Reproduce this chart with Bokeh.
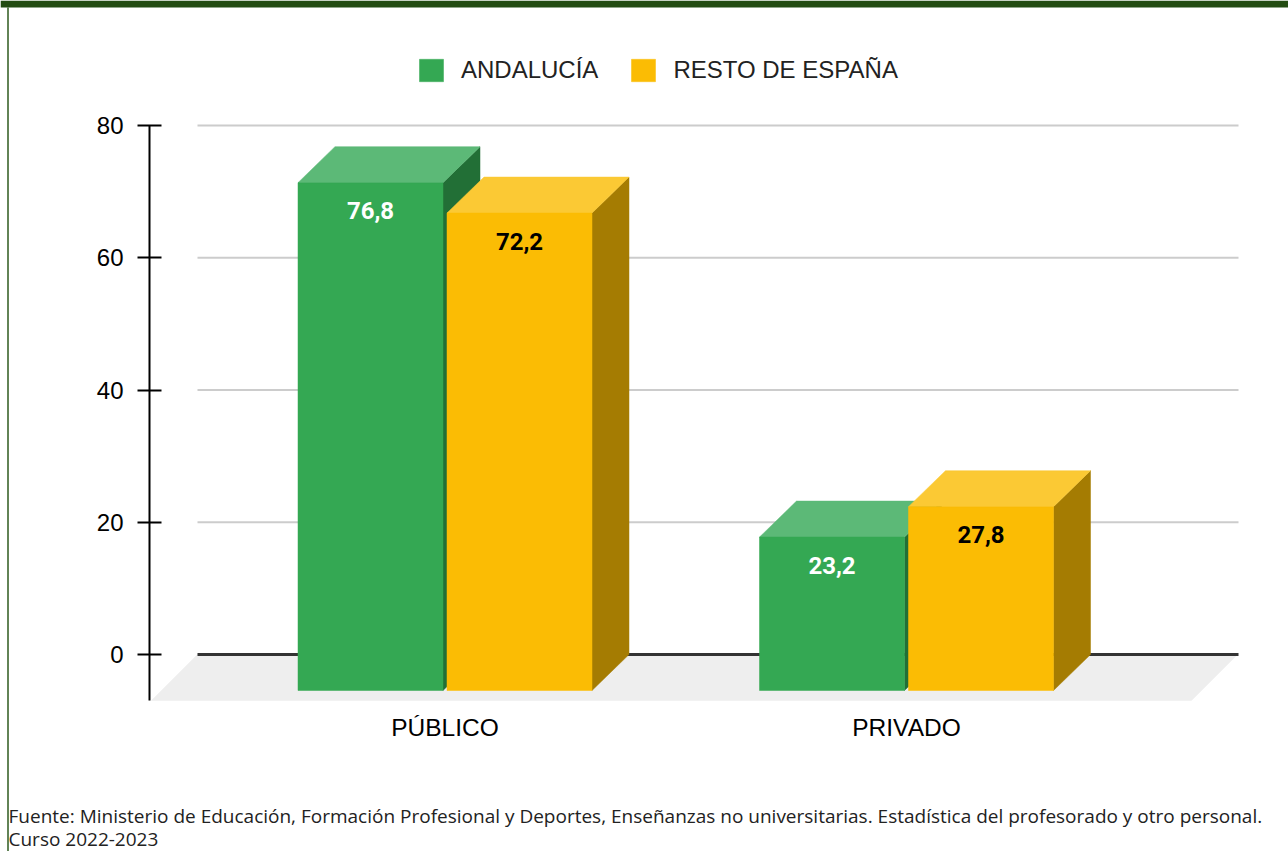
from bokeh.plotting import figure
from bokeh.models import Range1d, FixedTicker, Legend, LegendItem, Label
from bokeh.core.properties import value
from bokeh.embed import file_html
from bokeh.resources import INLINE

# ---------------- data ----------------
categories = ["PÚBLICO", "PRIVADO"]
series_names = ["ANDALUCÍA", "RESTO DE ESPAÑA"]
andalucia = [76.8, 23.2]
resto_espana = [72.2, 27.8]
y_ticks = [0, 20, 40, 60, 80]
source_lines = [
    "Fuente: Ministerio de Educación, Formación Profesional y Deportes, Enseñanzas no universitarias. "
    "Estadística del profesorado y otro personal.",
    "Curso 2022-2023",
]

# ---------------- style / layout ----------------
front_colors = ["#34a853", "#fbbc04"]
top_colors = ["#5cb977", "#fbc934"]
side_colors = ["#226f36", "#a57c02"]
label_colors = ["#ffffff", "#000000"]

W, H = 1288, 851
PX_X = 461.5           # pixels per category step
PX_Y = 529.0 / 80.0    # pixels per value unit
ORIGIN_X = 444.5       # page x of first category (front face centre)
ORIGIN_Y = 654.0       # page y of value 0 on the back plane


def dx(px):
    return (px - ORIGIN_X) / PX_X


def dy(py):
    return (ORIGIN_Y - py) / PX_Y


x_start, x_end = dx(0), dx(W)
y_start, y_end = dy(H), dy(0)
axis_x = dx(149)
floor_front = dy(700)

bar_w = 145.0 / PX_X
gap = 4.0 / PX_X
dxb = 37.0 / PX_X      # bar depth
dyb = 36.0 / PX_Y
dxf = 46.0 / PX_X      # floor depth
dyf = 46.0 / PX_Y
floor_left = dx(197)
floor_right = dx(1237)

p = figure(width=W, height=H, output_backend="svg", toolbar_location=None,
           x_range=Range1d(x_start, x_end), y_range=Range1d(y_start, y_end),
           min_border=0, background_fill_color="white", border_fill_color="white")
p.outline_line_color = None
p.xgrid.visible = False
p.ygrid.visible = False

# page decoration: top band and left border
p.quad(left=[x_start], right=[x_end], top=[y_end], bottom=[dy(7)],
       fill_color="#234c12", line_color=None)
p.segment(x0=[dx(7.5)], x1=[dx(7.5)], y0=[dy(7)], y1=[y_start],
          line_color="#2e5a1e", line_width=1.5)

# floor
p.patch(x=[floor_left, floor_right, floor_right - dxf, floor_left - dxf],
        y=[0, 0, -dyf, -dyf], fill_color="#eeeeee", line_color="#eeeeee", line_width=0.5)

# grid lines on back plane
p.segment(x0=[floor_left] * len(y_ticks), x1=[dx(1238)] * len(y_ticks),
          y0=y_ticks, y1=y_ticks,
          line_color=["#333333" if t == 0 else "#cccccc" for t in y_ticks],
          line_width=[3 if t == 0 else 2 for t in y_ticks])

# value axis line (axis guide below draws ticks + labels)
p.segment(x0=[axis_x], x1=[axis_x], y0=[max(y_ticks)], y1=[floor_front],
          line_color="black", line_width=2)

# 3D bars
front_renderers = []
for s, vals in enumerate([andalucia, resto_espana]):
    xl = [i - gap / 2 - bar_w if s == 0 else i + gap / 2 for i in range(len(vals))]
    xr = [a + bar_w for a in xl]
    side_xs = [[b, b, b + dxb, b + dxb] for b in xr]
    side_ys = [[-dyb, v - dyb, v, 0] for v in vals]
    top_xs = [[a, b, b + dxb, a + dxb] for a, b in zip(xl, xr)]
    top_ys = [[v - dyb, v - dyb, v, v] for v in vals]
    p.patches(xs=side_xs, ys=side_ys, fill_color=side_colors[s],
              line_color=side_colors[s], line_width=0.5)
    p.patches(xs=top_xs, ys=top_ys, fill_color=top_colors[s],
              line_color=top_colors[s], line_width=0.5)
    r = p.quad(left=xl, right=xr, bottom=[-dyb] * len(vals), top=[v - dyb for v in vals],
               fill_color=front_colors[s], line_color=front_colors[s], line_width=0.5)
    front_renderers.append(r)
    p.text(x=[(a + b) / 2 for a, b in zip(xl, xr)], y=[v - dyb for v in vals],
           text=[f"{v:.1f}".replace(".", ",") for v in vals],
           y_offset=28, text_align="center", text_baseline="middle",
           text_font=value("Roboto"), text_font_style="bold", text_font_size="24px",
           text_color=label_colors[s])

# axes (fixed inside the frame)
p.yaxis.fixed_location = axis_x
p.yaxis.ticker = FixedTicker(ticks=y_ticks)
p.yaxis.axis_line_color = None
p.yaxis.major_tick_line_color = "black"
p.yaxis.major_tick_line_width = 2
p.yaxis.major_tick_in = 12
p.yaxis.major_tick_out = 12
p.yaxis.minor_tick_line_color = None
p.yaxis.major_label_standoff = 14
p.yaxis.major_label_text_font = "Liberation Sans"
p.yaxis.major_label_text_font_size = "24px"
p.yaxis.major_label_text_color = "black"

p.xaxis.fixed_location = floor_front
p.xaxis.ticker = FixedTicker(ticks=list(range(len(categories))))
p.xaxis.major_label_overrides = {i: c for i, c in enumerate(categories)}
p.xaxis.axis_line_color = None
p.xaxis.major_tick_line_color = None
p.xaxis.minor_tick_line_color = None
p.xaxis.major_tick_in = 0
p.xaxis.major_tick_out = 0
p.xaxis.major_label_standoff = 13
p.xaxis.major_label_text_font = "Liberation Sans"
p.xaxis.major_label_text_font_size = "24.5px"
p.xaxis.major_label_text_color = "black"

# legend
legend = Legend(items=[LegendItem(label=n, renderers=[r]) for n, r in zip(series_names, front_renderers)],
                orientation="horizontal", location=(416, H - 84), padding=0, margin=0,
                border_line_color=None, background_fill_alpha=0,
                glyph_width=30, glyph_height=28, label_standoff=15, spacing=30,
                label_text_font="Liberation Sans", label_text_font_size="24px",
                label_text_color="#222222")
p.add_layout(legend)

# source text
for k, line in enumerate(source_lines):
    p.add_layout(Label(x=8, y=H - 815 - 23 * k, x_units="screen", y_units="screen",
                       text=line, text_baseline="middle", text_align="left",
                       text_font="Open Sans", text_font_size="19px", text_color="#222222"))

open("out.html", "w").write(file_html(p, INLINE))
